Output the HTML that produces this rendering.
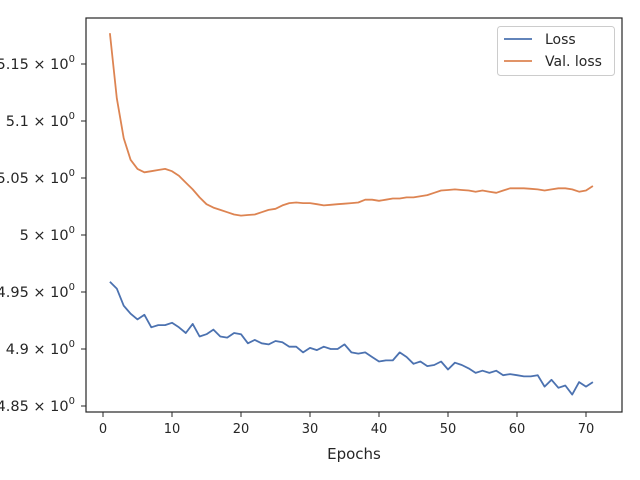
<!DOCTYPE html>
<html><head><meta charset="utf-8"><style>
body{margin:0;background:#fff;}
svg{display:block;font-family:"DejaVu Sans","Liberation Sans",sans-serif;}
</style></head><body>
<svg id="chart" width="640" height="480">
<rect x="86" y="18" width="536" height="394" fill="#fff" stroke="#262626" stroke-width="1.2"/>
<g id="xaxis"></g>
<g id="yaxis"></g>
<g id="series"></g>
<text x="354" y="459" text-anchor="middle" font-size="15" fill="#262626">Epochs</text>
<g>
<rect x="497.5" y="26.5" width="117" height="49" rx="3" fill="#fff" stroke="#ccc"/>
<line x1="504" y1="39" x2="532" y2="39" stroke="#4c72b0" stroke-width="1.8"/>
<text x="545" y="44" font-size="14" fill="#262626">Loss</text>
<line x1="504" y1="61" x2="532" y2="61" stroke="#dd8452" stroke-width="1.8"/>
<text x="545" y="66" font-size="14" fill="#262626">Val. loss</text>
</g>
</svg>
<script>
const epochs=[];for(let i=1;i<=71;i++)epochs.push(i);
const lossValues=[4.959,4.953,4.938,4.931,4.926,4.930,4.919,4.921,4.921,4.923,4.919,4.914,4.922,4.911,4.913,4.917,4.911,4.910,4.914,4.913,4.905,4.908,4.905,4.904,4.907,4.906,4.902,4.902,4.897,4.901,4.899,4.902,4.900,4.900,4.904,4.897,4.896,4.897,4.893,4.889,4.890,4.890,4.897,4.893,4.887,4.889,4.885,4.886,4.889,4.882,4.888,4.886,4.883,4.879,4.881,4.879,4.881,4.877,4.878,4.877,4.876,4.876,4.877,4.867,4.873,4.866,4.868,4.860,4.871,4.867,4.871];
const valLossValues=[5.177,5.120,5.085,5.066,5.058,5.055,5.056,5.057,5.058,5.056,5.052,5.046,5.040,5.033,5.027,5.024,5.022,5.020,5.018,5.017,5.0175,5.018,5.020,5.022,5.023,5.026,5.028,5.0285,5.028,5.028,5.027,5.026,5.0265,5.027,5.0275,5.028,5.0285,5.031,5.031,5.030,5.031,5.032,5.032,5.033,5.033,5.034,5.035,5.037,5.039,5.0395,5.040,5.0395,5.039,5.038,5.039,5.038,5.037,5.039,5.041,5.041,5.041,5.0405,5.040,5.039,5.040,5.041,5.041,5.040,5.038,5.039,5.043];
const xTicks=[0,10,20,30,40,50,60,70];
const yTicks=[4.85,4.9,4.95,5.0,5.05,5.1,5.15];
const yTickLabels=["4.85","4.9","4.95","5","5.05","5.1","5.15"];
const NS="http://www.w3.org/2000/svg";
const xs=v=>103+v*6.9;
const ys=v=>235-(v-5)*1140;
function mk(tag,attrs,parent){const e=document.createElementNS(NS,tag);for(const k in attrs)e.setAttribute(k,attrs[k]);parent.appendChild(e);return e;}
const xg=document.getElementById('xaxis'),yg=document.getElementById('yaxis'),sg=document.getElementById('series');
xTicks.forEach(t=>{
 const l=mk('line',{x1:xs(t),x2:xs(t),y1:412,y2:417,stroke:'#262626'},xg);
 
 
 const tx=mk('text',{x:xs(t),y:433,'text-anchor':'middle','font-size':13,fill:'#262626'},xg);
 tx.textContent=t;
 
 
});
yTicks.forEach((t,i)=>{
 const l=mk('line',{x1:81,x2:86,y1:ys(t),y2:ys(t),stroke:'#262626'},yg);
 
 
 const tx=mk('text',{x:75,y:ys(t)+5,'text-anchor':'end','font-size':14.5,fill:'#262626'},yg);
 tx.innerHTML=yTickLabels[i]+' × 10<tspan dy="-7" font-size="10">0</tspan>';
 
 
});
function line(vals,color,name){
 const d=vals.map((v,i)=>(i?'L':'M')+xs(epochs[i]).toFixed(1)+','+ys(v).toFixed(1)).join(' ');
 const p=mk('path',{d:d,fill:'none',stroke:color,'stroke-width':1.8,'stroke-linejoin':'round'},sg);
 
 
}
line(lossValues,'#4c72b0','loss-line');
line(valLossValues,'#dd8452','val-loss-line');
</script>
</body></html>
